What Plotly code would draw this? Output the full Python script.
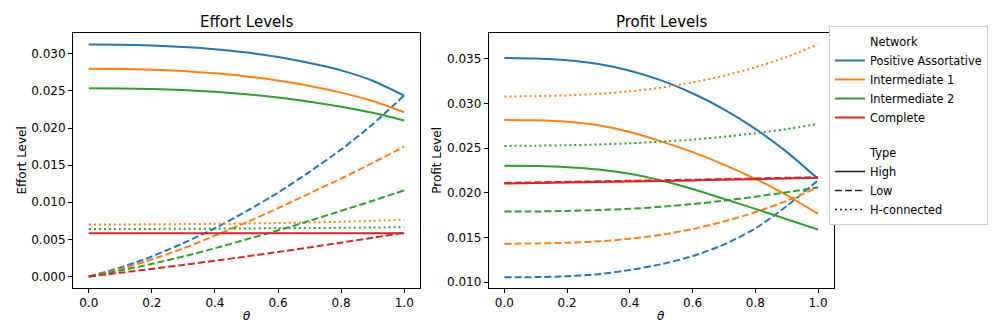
import plotly.graph_objects as go

# ---------------- data ----------------
theta = [0.0, 0.1, 0.2, 0.3, 0.4, 0.5, 0.6, 0.7, 0.8, 0.9, 1.0]

networks = ["Positive Assortative", "Intermediate 1", "Intermediate 2", "Complete"]
types = ["High", "Low", "H-connected"]
net_colors = ["#1f77b4", "#ff7f0e", "#2ca02c", "#d62728"]

# Effort levels
effort_pa_high = [0.03126, 0.03122, 0.03112, 0.03092, 0.03062, 0.03017, 0.02957, 0.02877, 0.02777, 0.02637, 0.02437]
effort_pa_low = [0.0, 0.0012, 0.0027, 0.0045, 0.0065, 0.0088, 0.0113, 0.0141, 0.0171, 0.0205, 0.0244]
effort_i1_high = [0.02798, 0.02795, 0.02786, 0.02767, 0.02737, 0.02695, 0.02639, 0.02567, 0.02477, 0.02363, 0.02213]
effort_i1_low = [0.0, 0.0010, 0.0023, 0.0038, 0.0055, 0.0073, 0.0092, 0.0112, 0.0132, 0.0153, 0.0175]
effort_i1_hcon = [0.00700, 0.00701, 0.00703, 0.00706, 0.00710, 0.00714, 0.00720, 0.00728, 0.00738, 0.00750, 0.00766]
effort_i2_high = [0.02537, 0.02534, 0.02526, 0.02511, 0.02488, 0.02455, 0.02411, 0.02355, 0.02287, 0.02205, 0.02101]
effort_i2_low = [0.0, 0.0008, 0.0017, 0.0027, 0.0038, 0.0050, 0.0062, 0.0075, 0.00885, 0.0102, 0.0116]
effort_i2_hcon = [0.00640, 0.00640, 0.00641, 0.00643, 0.00645, 0.00647, 0.00650, 0.00653, 0.00656, 0.00660, 0.00664]
effort_c_high = [0.00584, 0.00584, 0.00584, 0.00584, 0.00584, 0.00584, 0.00584, 0.00584, 0.00584, 0.00584, 0.00584]
effort_c_low = [0.0, 0.0005, 0.00102, 0.00156, 0.00212, 0.0027, 0.0033, 0.00392, 0.00456, 0.00522, 0.0059]

# Profit levels
profit_pa_high = [0.03508, 0.03502, 0.03482, 0.03439, 0.03365, 0.03257, 0.03113, 0.02933, 0.02715, 0.02457, 0.02155]
profit_pa_low = [0.01053, 0.01056, 0.01066, 0.01088, 0.01135, 0.01200, 0.01290, 0.01420, 0.01600, 0.01850, 0.02140]
profit_i1_high = [0.02814, 0.02810, 0.02794, 0.02754, 0.02679, 0.02574, 0.02454, 0.02314, 0.02154, 0.01974, 0.01764]
profit_i1_low = [0.01430, 0.01432, 0.01440, 0.01456, 0.01484, 0.01529, 0.01593, 0.01677, 0.01782, 0.01908, 0.02060]
profit_i1_hcon = [0.03077, 0.03080, 0.03089, 0.03106, 0.03134, 0.03176, 0.03234, 0.03309, 0.03403, 0.03518, 0.03660]
profit_i2_high = [0.02302, 0.02298, 0.02286, 0.02260, 0.02212, 0.02137, 0.02042, 0.01932, 0.01819, 0.01704, 0.01589]
profit_i2_low = [0.01789, 0.01790, 0.01796, 0.01806, 0.01820, 0.01842, 0.01873, 0.01910, 0.01955, 0.02005, 0.02060]
profit_i2_hcon = [0.02524, 0.02526, 0.02531, 0.02540, 0.02553, 0.02571, 0.02595, 0.02626, 0.02665, 0.02712, 0.02769]
profit_c_high = [0.02102, 0.02108, 0.02114, 0.02120, 0.02126, 0.02132, 0.02138, 0.02145, 0.02152, 0.02160, 0.02168]
profit_c_low = [0.02110, 0.02116, 0.02122, 0.02128, 0.02134, 0.02140, 0.02146, 0.02153, 0.02160, 0.02167, 0.02174]

x_ticks = [0.0, 0.2, 0.4, 0.6, 0.8, 1.0]
effort_ticks = [0.000, 0.005, 0.010, 0.015, 0.020, 0.025, 0.030]
profit_ticks = [0.010, 0.015, 0.020, 0.025, 0.030, 0.035]

# ---------------- figure ----------------
W, H = 996, 324
FONT = "DejaVu Sans"
FS = 12
dash_styles = {"High": "solid", "Low": "7px,3px", "H-connected": "2px,3px"}
LW = 2

effort_series = [
    (0, "High", effort_pa_high), (0, "Low", effort_pa_low),
    (1, "High", effort_i1_high), (1, "Low", effort_i1_low), (1, "H-connected", effort_i1_hcon),
    (2, "High", effort_i2_high), (2, "Low", effort_i2_low), (2, "H-connected", effort_i2_hcon),
    (3, "High", effort_c_high), (3, "Low", effort_c_low),
]
profit_series = [
    (0, "High", profit_pa_high), (0, "Low", profit_pa_low),
    (1, "High", profit_i1_high), (1, "Low", profit_i1_low), (1, "H-connected", profit_i1_hcon),
    (2, "High", profit_i2_high), (2, "Low", profit_i2_low), (2, "H-connected", profit_i2_hcon),
    (3, "High", profit_c_high), (3, "Low", profit_c_low),
]

fig = go.Figure()

# legend entries (dummy traces)
fig.add_trace(go.Scatter(x=[None], y=[None], mode="lines", name="Network",
                         line=dict(color="rgba(0,0,0,0)", width=LW), legendgroup="net",
                         hoverinfo="skip"))
for nm, c in zip(networks, net_colors):
    fig.add_trace(go.Scatter(x=[None], y=[None], mode="lines", name=nm,
                             line=dict(color=c, width=LW), legendgroup="net"))
fig.add_trace(go.Scatter(x=[None], y=[None], mode="lines", name="Type",
                         line=dict(color="rgba(0,0,0,0)", width=LW), legendgroup="type",
                         hoverinfo="skip"))
for t in types:
    fig.add_trace(go.Scatter(x=[None], y=[None], mode="lines", name=t,
                             line=dict(color="#222222", width=1.6, dash=dash_styles[t]),
                             legendgroup="type"))

for series, xa, ya in ((effort_series, "x", "y"), (profit_series, "x2", "y2")):
    for ni, t, vals in series:
        fig.add_trace(go.Scatter(
            x=theta, y=vals, mode="lines", xaxis=xa, yaxis=ya, showlegend=False,
            name=f"{networks[ni]} - {t}",
            line=dict(color=net_colors[ni], width=LW, dash=dash_styles[t], shape="spline", smoothing=0.6),
        ))

axis_common = dict(
    showline=True, mirror=True, linecolor="black", linewidth=1,
    ticks="outside", ticklen=4, tickwidth=1, tickcolor="black",
    showgrid=False, zeroline=False, automargin=False,
    tickfont=dict(family=FONT, size=FS, color="black"),
)

ydom = [1 - 280 / H, 1 - 25 / H]
fig.update_layout(
    width=W, height=H,
    margin=dict(l=0, r=0, t=0, b=0),
    paper_bgcolor="white", plot_bgcolor="white",
    font=dict(family=FONT, size=FS, color="black"),
    xaxis=dict(domain=[65 / W, 412 / W], range=[-0.05, 1.05], tickvals=x_ticks,
               ticktext=[f"{v:.1f}" for v in x_ticks], anchor="y", **axis_common),
    yaxis=dict(domain=ydom, range=[-0.00155, 0.0328], tickvals=effort_ticks,
               ticktext=[f"{v:.3f}" for v in effort_ticks], anchor="x", **axis_common),
    xaxis2=dict(domain=[480.7 / W, 825.7 / W], range=[-0.05, 1.05], tickvals=x_ticks,
                ticktext=[f"{v:.1f}" for v in x_ticks], anchor="y2", **axis_common),
    yaxis2=dict(domain=ydom, range=[0.00934, 0.03787], tickvals=profit_ticks,
                ticktext=[f"{v:.3f}" for v in profit_ticks], anchor="x2", **axis_common),
    legend=dict(x=821 / W, y=1 - 18 / H, xanchor="left", yanchor="top",
                bordercolor="#cccccc", borderwidth=1, bgcolor="white",
                font=dict(family=FONT, size=11.4, color="black"),
                traceorder="grouped", tracegroupgap=16),
    showlegend=True,
)

ann = []
ann.append(dict(text="Effort Levels", x=(65 + 412) / 2 / W, y=1 - 14 / H, xref="paper", yref="paper",
                showarrow=False, xanchor="center", yanchor="middle", font=dict(family=FONT, size=15)))
ann.append(dict(text="Profit Levels", x=(480.7 + 825.7) / 2 / W, y=1 - 14 / H, xref="paper", yref="paper",
                showarrow=False, xanchor="center", yanchor="middle", font=dict(family=FONT, size=15)))
ann.append(dict(text="<i>θ</i>", x=(65 + 412) / 2 / W, y=1 - 308 / H, xref="paper", yref="paper",
                showarrow=False, xanchor="center", yanchor="middle", font=dict(family=FONT, size=FS)))
ann.append(dict(text="<i>θ</i>", x=(480.7 + 825.7) / 2 / W, y=1 - 308 / H, xref="paper", yref="paper",
                showarrow=False, xanchor="center", yanchor="middle", font=dict(family=FONT, size=FS)))
ann.append(dict(text="Effort Level", x=13 / W, y=(ydom[0] + ydom[1]) / 2, xref="paper", yref="paper",
                showarrow=False, xanchor="center", yanchor="middle", textangle=-90,
                font=dict(family=FONT, size=FS)))
ann.append(dict(text="Profit Level", x=428.3 / W, y=(ydom[0] + ydom[1]) / 2, xref="paper", yref="paper",
                showarrow=False, xanchor="center", yanchor="middle", textangle=-90,
                font=dict(family=FONT, size=FS)))
fig.update_layout(annotations=ann)

fig.write_html("out.html")
